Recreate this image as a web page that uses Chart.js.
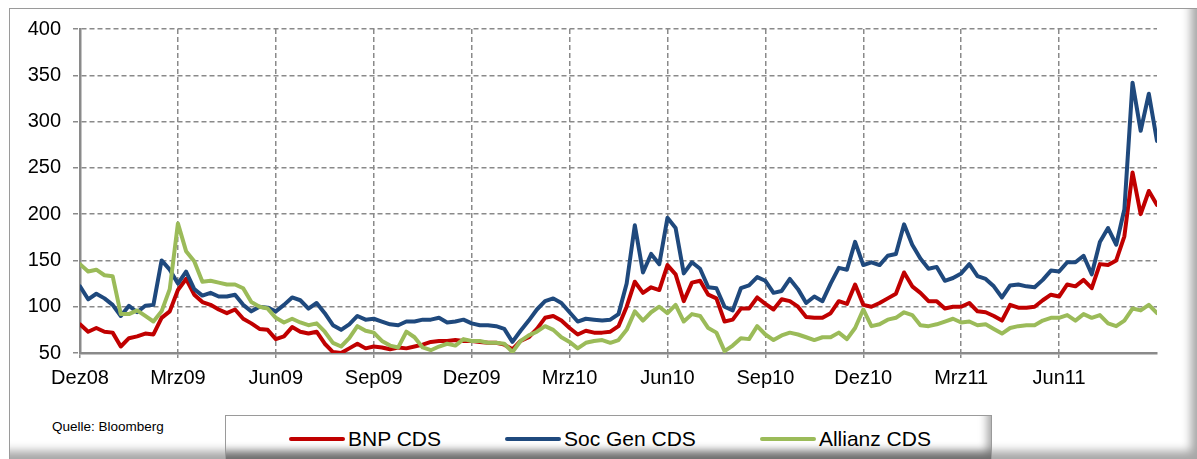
<!DOCTYPE html>
<html>
<head>
<meta charset="utf-8">
<title>CDS</title>
<script src="https://cdn.jsdelivr.net/npm/chart.js@4.4.1/dist/chart.umd.min.js"></script>
<style>
  html, body { margin: 0; padding: 0; background: #fff; }
  body { position: relative; width: 1197px; height: 459px; overflow: hidden; font-family: "Liberation Sans", Arial, sans-serif; }
  #frame {
    position: absolute; left: 9px; top: 8px; width: 1188px; height: 451px; box-sizing: border-box;
    border-left: 1px solid #9a9a9a; border-top: 1px solid #9a9a9a;
    box-shadow: inset -12px -14px 10px -6px rgba(0,0,0,0.35);
  }
  #chartBox { position: absolute; left: 0; top: 0; width: 1197px; height: 400px; }
  #source { position: absolute; left: 52px; top: 419px; font-size: 13.5px; color: #000; white-space: nowrap; }
  #legend {
    position: absolute; left: 225px; top: 415px; width: 767px; height: 44px; box-sizing: border-box;
    border: 1px solid #9a9a9a; border-bottom: none;
    box-shadow: inset -9px -12px 8px -5px rgba(0,0,0,0.35);
    display: flex; align-items: center; padding: 0 0 0 63px; font-size: 21px; color: #000;
    white-space: nowrap; overflow: hidden;
  }
  .item { display: flex; align-items: center; flex-shrink: 0; margin-right: 64px; margin-top: 2px; white-space: nowrap; }
  .swatch { display: inline-block; width: 56px; height: 4px; border-radius: 2px; margin-right: 3px; flex-shrink: 0; }
</style>
</head>
<body>
<div id="frame"></div>
<div id="chartBox"><canvas id="cds" width="1197" height="400"></canvas></div>
<div id="source">Quelle: Bloomberg</div>
<div id="legend"></div>
<script>
// Quartalsbeschriftung der x-Achse (Monate seit Dez08, alle 3 Monate)
const xLabels = ['Dez08','Mrz09','Jun09','Sep09','Dez09','Mrz10','Jun10','Sep10','Dez10','Mrz11','Jun11']
const monthsPerPoint = 0.25
const monthsTotal = 33

const seriesNames = ['BNP CDS', 'Soc Gen CDS', 'Allianz CDS']
const seriesColors = ['#C00000', '#1F497D', '#9BBB59']

const bnp = [
  81,73,77,73,72,57,66,68,71,70, 88,95,118,130,113,105,102,97,93,97,
  87,82,76,75,65,68,78,73,71,73, 60,51,50,55,60,55,57,56,54,56,
  55,57,59,62,63,63,64,63,63,62, 61,61,59,54,63,67,76,88,90,85,
  77,70,74,72,72,73,79,100,127,115, 121,118,145,135,106,126,128,113,109,84,
  86,98,98,110,103,97,108,106,100,89, 88,88,93,106,103,124,102,100,104,109,
  114,137,122,115,106,106,98,100,100,104, 95,94,90,85,102,99,99,100,107,113,
  111,124,122,129,120,146,145,150,176,245, 200,225,210
]
const socGen = [
  122,108,114,109,102,90,101,94,101,102, 150,140,125,138,119,112,115,111,111,113,
  102,95,100,99,95,102,110,107,98,104, 93,80,75,81,90,86,87,84,81,80,
  84,84,86,86,88,83,84,86,82,80, 80,79,76,62,74,85,97,106,109,104,
  94,84,87,86,85,86,92,125,188,137, 157,146,196,185,136,148,141,121,120,100,
  96,120,123,132,128,115,117,130,119,104, 111,106,125,142,140,170,145,148,145,155,
  157,189,167,152,141,143,128,131,136,146, 133,130,122,110,123,124,122,121,129,139,
  138,148,148,155,135,170,185,167,205,342, 290,330,279
]
const allianz = [
  146,138,140,134,133,92,92,96,90,84, 95,119,190,160,149,127,128,126,124,124,
  120,105,100,98,88,83,87,83,80,82, 73,61,57,66,79,74,72,63,58,56,
  73,67,56,53,57,60,58,65,63,63, 61,61,60,51,63,69,73,79,75,67,
  62,55,61,63,64,61,64,75,95,85, 94,100,93,102,84,92,90,77,72,52,
  58,66,65,79,70,64,69,72,70,67, 64,67,67,72,65,77,97,79,81,86,
  88,94,91,80,79,81,84,87,83,84, 80,81,76,71,77,79,80,80,85,88,
  88,91,85,92,88,91,82,79,85,98, 96,102,93
]
const yMin = 50
const yMax = 400
const yStep = 50

function toPoints(values){
  var pts = []
  for(var i=0;i<values.length;i++){
    pts.push({x: i*monthsPerPoint, y: values[i]})
  }
  return pts
}

const allSeries = [bnp, socGen, allianz]
var datasets = []
for(var s=0;s<allSeries.length;s++){
  datasets.push({
    label: seriesNames[s],
    data: toPoints(allSeries[s]),
    borderColor: seriesColors[s],
    backgroundColor: seriesColors[s],
    borderWidth: 4,
    pointRadius: 0,
    tension: 0,
    borderJoinStyle: 'round',
    borderCapStyle: 'round',
    order: allSeries.length - 1 - s   // Allianz oben
  })
}

// Legende als HTML
const legend = document.getElementById('legend')
for(var k=0;k<seriesNames.length;k++){
  const item = document.createElement('div')
  item.className = 'item'
  item.innerHTML = `<span class="swatch" style="background:${seriesColors[k]}"></span><span>${seriesNames[k]}</span>`
  legend.appendChild(item)
}

Chart.defaults.font.family = '"Liberation Sans", Arial, sans-serif'
Chart.defaults.color = '#000'

const gridGray = '#8a8a8a'
const axisGray = '#8a8a8a'

var ctx = document.getElementById('cds').getContext('2d')
var chart = new Chart(ctx, {
  type: 'line',
  data: { datasets: datasets },
  options: {
    responsive: false,
    animation: false,
    devicePixelRatio: 1,
    layout: { padding: { left: 0, right: 40, top: 29, bottom: 0 } },
    plugins: { legend: { display: false }, tooltip: { enabled: false } },
    scales: {
      x: {
        type: 'linear',
        min: 0,
        max: monthsTotal,
        afterBuildTicks: function(scale){
          scale.ticks = xLabels.map(function(l, i){ return { value: i*3 } })
        },
        afterFit: function(scale){ scale.height = 47 },
        ticks: {
          autoSkip: false,
          maxRotation: 0,
          padding: 8,
          font: { size: 20 },
          callback: function(v){ return xLabels[Math.round(v/3)] }
        },
        grid: { color: gridGray, lineWidth: 1.5, tickLength: 5, tickColor: axisGray, tickWidth: 1.5 },
        border: { display: true, color: axisGray, width: 2.5, dash: [5, 3] }
      },
      y: {
        min: yMin,
        max: yMax,
        afterFit: function(scale){ scale.width = 80 },
        ticks: { stepSize: yStep, padding: 12, font: { size: 20 } },
        grid: { color: gridGray, lineWidth: 1.5, tickLength: 7, tickColor: gridGray, tickWidth: 1.5, tickBorderDash: [5, 3] },
        border: { display: true, color: axisGray, width: 2.5, dash: [5, 3] }
      }
    }
  }
})
</script>
</body>
</html>
